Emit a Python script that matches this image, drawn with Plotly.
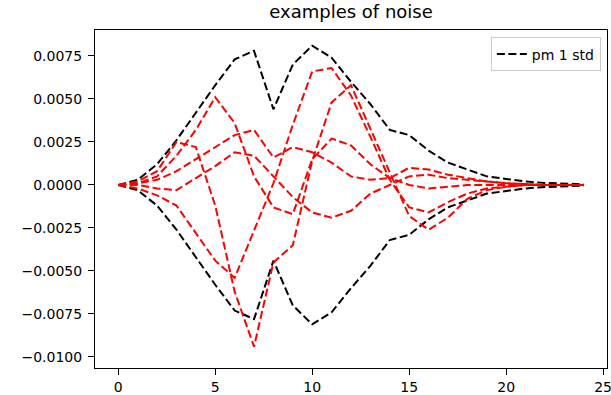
import plotly.graph_objects as go

steps = list(range(25))

std_upper = [0, 0.0003, 0.0012, 0.0026, 0.0042, 0.0058, 0.0073, 0.0078, 0.0044, 0.0070,
             0.0081, 0.0074, 0.0060, 0.0047, 0.0032, 0.0029, 0.0020, 0.0013, 0.0009, 0.0005,
             0.00035, 0.0002, 0.00012, 0.00007, 0.00004]
std_lower = [-v for v in std_upper]

noise_a = [0, 0.0001, 0.0005, 0.0017, 0.0032, 0.0051, 0.0036, 0.0005, -0.0013, -0.0017,
           0.0015, 0.0027, 0.0023, 0.0012, 0.0004, 0.0000, -0.0002, -0.0001, 0.0, 0.0,
           0.0, 0.0, 0.0, 0.0, 0.0]
noise_b = [0, 0.0002, 0.0008, 0.0025, 0.0022, -0.0012, -0.0062, -0.0094, -0.0045, -0.0035,
           0.0014, 0.0048, 0.0058, 0.0033, 0.0008, -0.0018, -0.0026, -0.0019, -0.0008, -0.0003,
           -0.0001, 0.0, 0.0, 0.0, 0.0]
noise_c = [0, -0.0002, -0.0006, -0.0012, -0.0028, -0.0044, -0.0054, -0.0026, 0.0001, 0.0035,
           0.0066, 0.0068, 0.0052, 0.0028, 0.0003, -0.0013, -0.0016, -0.0010, -0.0005, -0.0002,
           -0.0001, 0.0, 0.0, 0.0, 0.0]
noise_d = [0, 0.0001, 0.0003, 0.0008, 0.0015, 0.0022, 0.0029, 0.0032, 0.0016, 0.0022,
           0.0019, 0.0013, 0.0005, 0.0003, 0.0004, 0.0010, 0.0009, 0.0006, 0.0004, 0.0002,
           0.0001, 0.00005, 0.0, 0.0, 0.0]
noise_e = [0, 0.0000, -0.0002, -0.0003, 0.0004, 0.0011, 0.0019, 0.0017, 0.0005, -0.0007,
           -0.0016, -0.0019, -0.0015, -0.0005, 0.0000, 0.0005, 0.0006, 0.0004, 0.0003, 0.0002,
           0.0001, 0.00005, 0.0, 0.0, 0.0]
noise_samples = [noise_a, noise_b, noise_c, noise_d, noise_e]

y_ticks = [-0.01, -0.0075, -0.005, -0.0025, 0.0, 0.0025, 0.005, 0.0075]
x_ticks = [0, 5, 10, 15, 20, 25]

FONT = "DejaVu Sans"
dash = "8px,3.5px"

fig = go.Figure()
fig.add_trace(go.Scatter(x=steps, y=std_upper, mode="lines", name="pm 1 std",
                         line=dict(color="black", width=2, dash=dash), showlegend=True))
fig.add_trace(go.Scatter(x=steps, y=std_lower, mode="lines", name="pm 1 std",
                         line=dict(color="black", width=2, dash=dash), showlegend=False))
for s in noise_samples:
    fig.add_trace(go.Scatter(x=steps, y=s, mode="lines",
                             line=dict(color="#ff0000", width=2, dash=dash), showlegend=False))

axis_common = dict(showline=True, linecolor="black", linewidth=1, mirror=True,
                   ticks="outside", ticklen=6, tickwidth=1, tickcolor="black",
                   showgrid=False, zeroline=False, automargin=False,
                   ticklabeloverflow="allow",
                   tickfont=dict(family=FONT, size=14, color="black"))

fig.update_layout(
    width=611, height=395,
    margin=dict(l=95, r=4, t=30, b=27, autoexpand=False),
    paper_bgcolor="white", plot_bgcolor="white",
    title=dict(text="examples of noise", x=0.5, xref="paper", xanchor="center",
               y=1 - 12 / 395, yref="container", yanchor="middle",
               font=dict(family=FONT, size=18, color="black")),
    xaxis=dict(range=[-1.2, 25.2], tickvals=x_ticks, **axis_common),
    yaxis=dict(range=[-0.01064, 0.00901], tickvals=y_ticks, tickformat=".4f",
               ticklabelstandoff=3, **axis_common),
    legend=dict(x=0.988, y=0.978, xanchor="right", yanchor="top",
                bgcolor="rgba(255,255,255,0.8)", bordercolor="#cccccc", borderwidth=1,
                font=dict(family=FONT, size=14, color="black")),
    showlegend=True,
)

fig.write_html("out.html", config={"displayModeBar": False},
               post_script="document.body.style.margin='0';document.body.style.overflow='hidden';")
